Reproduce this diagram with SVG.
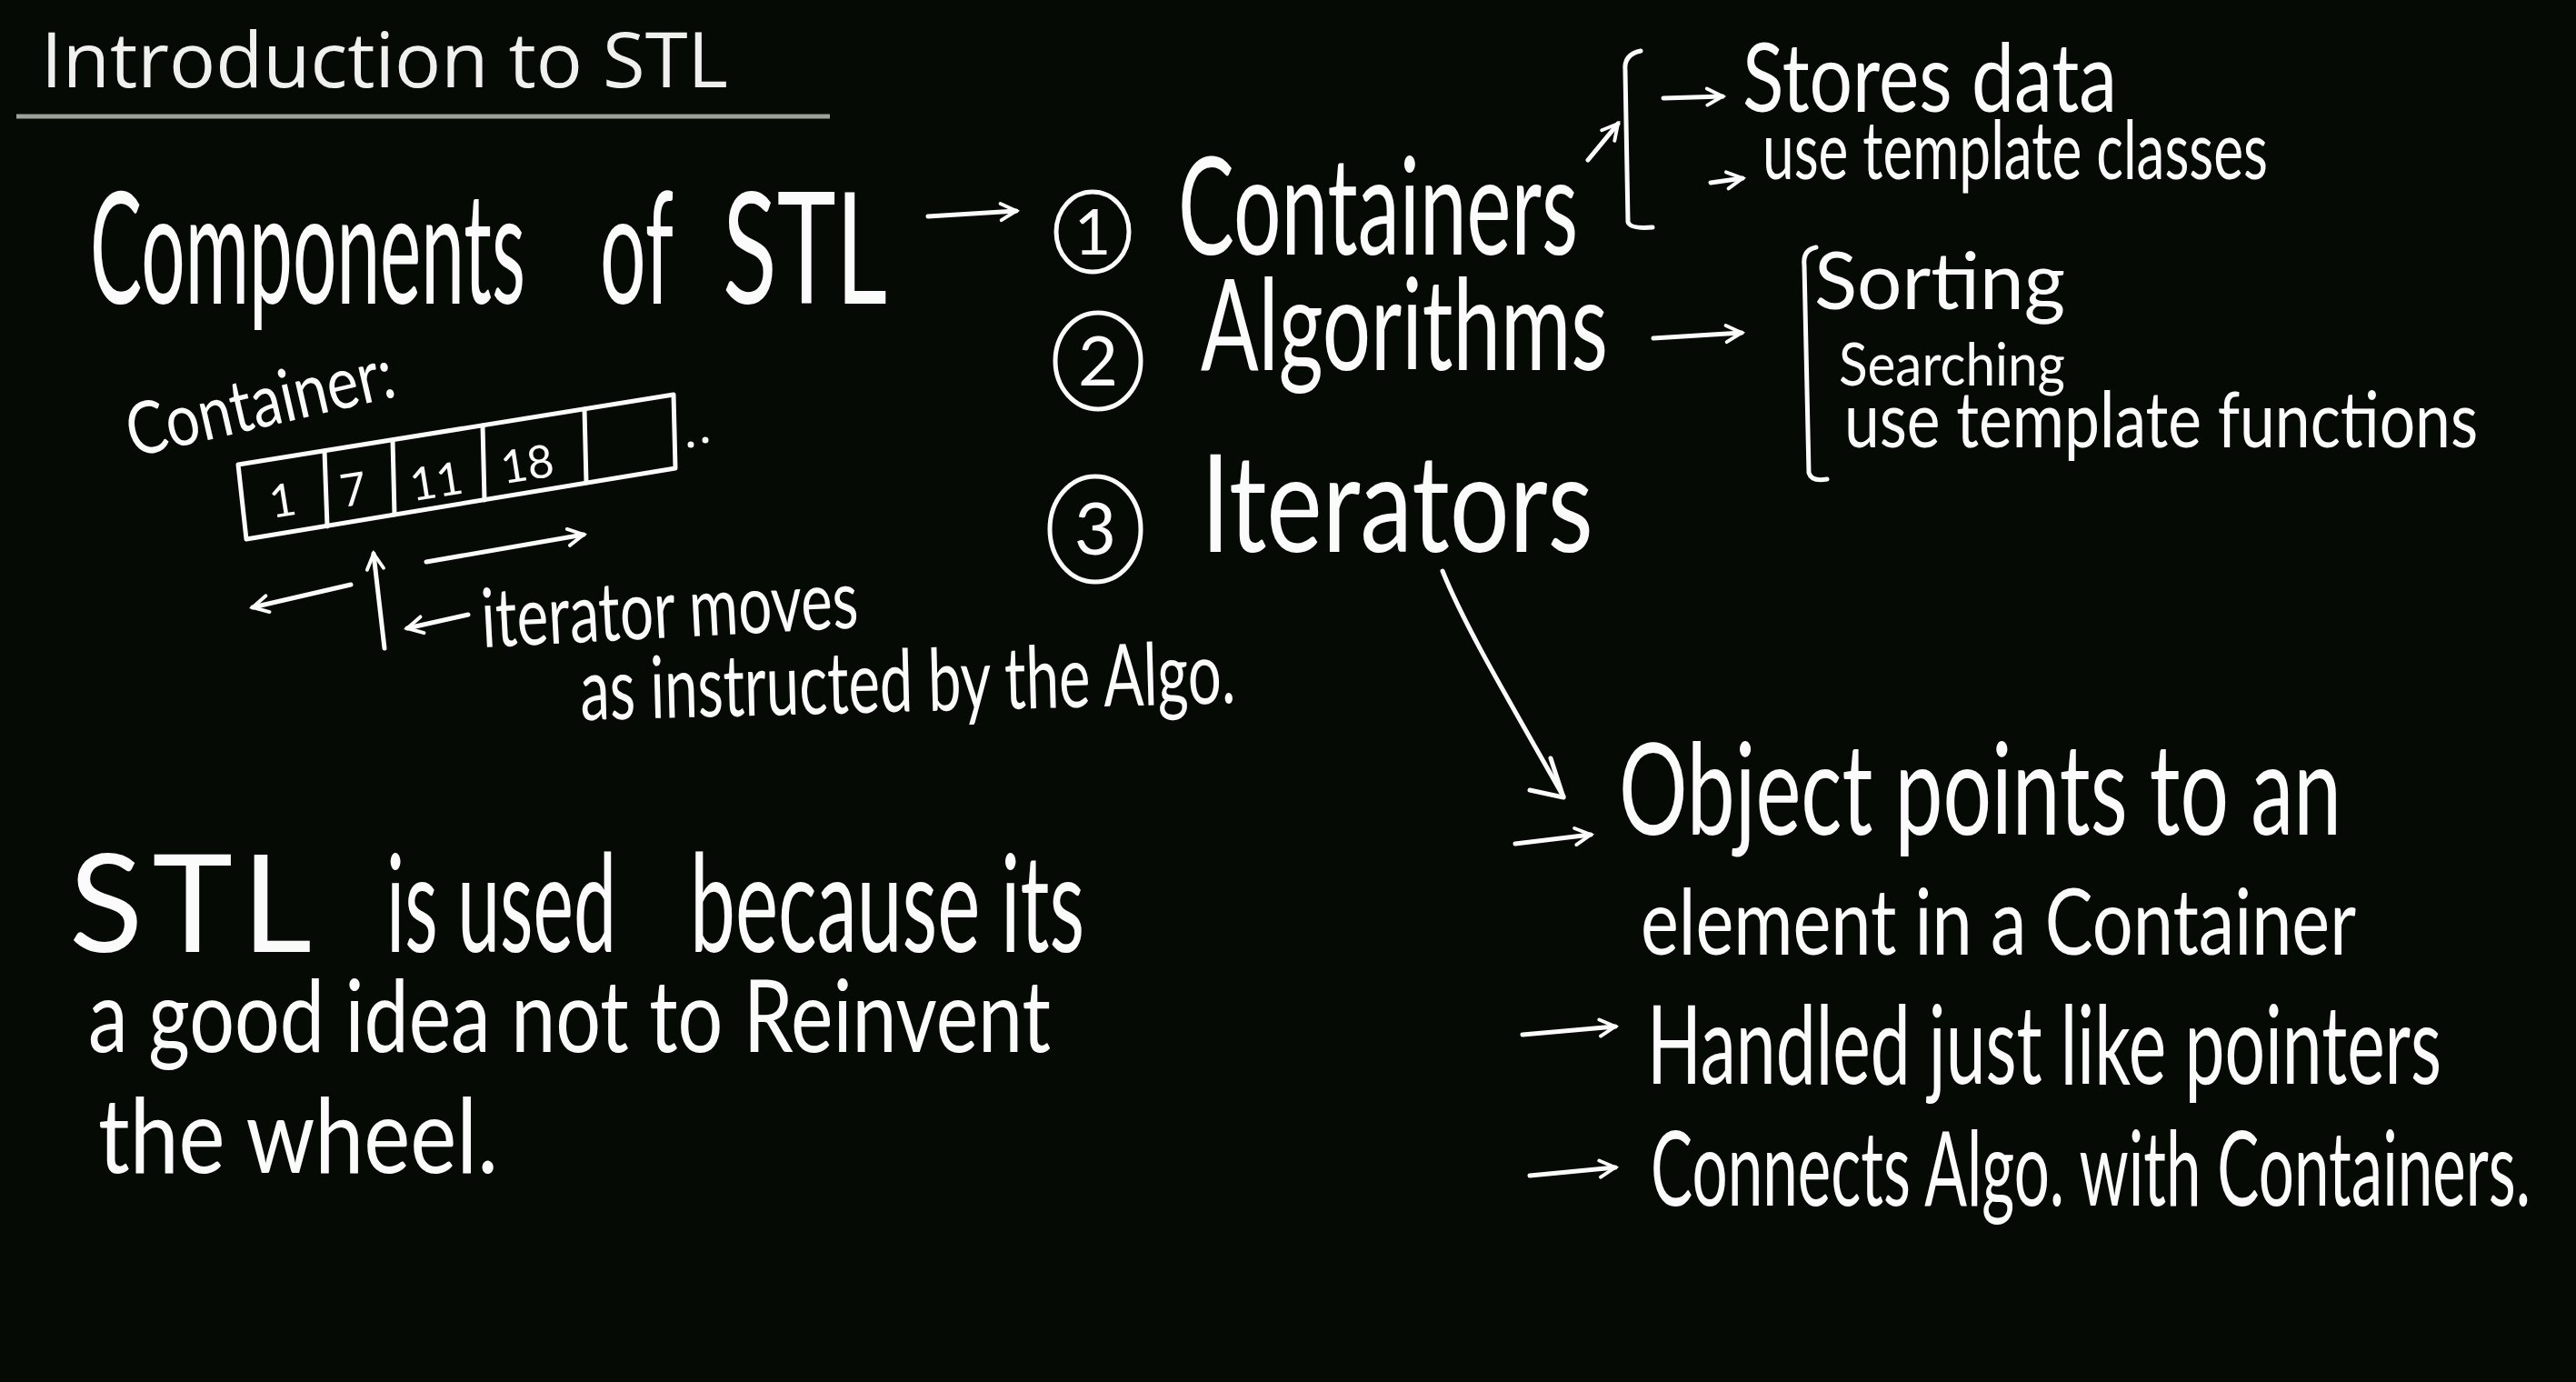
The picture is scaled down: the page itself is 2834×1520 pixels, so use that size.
<svg xmlns="http://www.w3.org/2000/svg" width="2834" height="1520" viewBox="0 0 2834 1520">
<defs>
<style>
.h{font-family:Lato,"Liberation Sans",sans-serif;font-weight:400;fill:#fbfbfb}
.ln{fill:none;stroke:#fbfbfb;stroke-width:5;stroke-linecap:round;stroke-linejoin:round}
.ar{fill:none;stroke:#fbfbfb;stroke-width:5;stroke-linecap:round;marker-end:url(#ah)}
.num{font-family:Lato,"Liberation Sans",sans-serif;font-weight:400;fill:#fbfbfb;text-anchor:middle}
</style>
<marker id="ah" viewBox="0 0 20 20" refX="17" refY="10" markerWidth="26" markerHeight="26" markerUnits="userSpaceOnUse" orient="auto">
<path d="M4,3 L17,10 L4,17" fill="none" stroke="#fbfbfb" stroke-width="3" stroke-linecap="round"/>
</marker>
</defs>
<rect width="2834" height="1520" fill="#050a05"/>

<g id="title">
<text x="45" y="96" font-family="'Open Sans','Liberation Sans',sans-serif" font-size="84" fill="#f0f0ee" textLength="756" lengthAdjust="spacingAndGlyphs">Introduction to STL</text>
<line x1="18" y1="128" x2="913" y2="128" stroke="#9ea39a" stroke-width="5"/>
</g>

<g id="components">
<text class="h" x="99" y="334" font-size="170" textLength="479" lengthAdjust="spacingAndGlyphs">Components</text>
<text class="h" x="660" y="334" font-size="170" textLength="81" lengthAdjust="spacingAndGlyphs">of</text>
<text class="h" x="795" y="334" font-size="170" textLength="181" lengthAdjust="spacingAndGlyphs">STL</text>
</g>

<g id="containers">
<ellipse class="ln" cx="1202" cy="255" rx="40" ry="44"/>
<text class="num" x="1202" y="280" font-size="70">1</text>
<text class="h" x="1296" y="280" font-size="150" textLength="440" lengthAdjust="spacingAndGlyphs">Containers</text>
</g>

<g id="containers-notes">
<path class="ln" d="M1805 56 Q1786 60 1788 78 L1791 244 Q1793 252 1818 250"/>
<text class="h" x="1917" y="123" font-size="105" textLength="412" lengthAdjust="spacingAndGlyphs">Stores data</text>
<text class="h" x="1939" y="197" font-size="90" textLength="556" lengthAdjust="spacingAndGlyphs">use template classes</text>
</g>

<g id="algorithms">
<ellipse class="ln" cx="1208" cy="397" rx="47" ry="53"/>
<text class="num" x="1208" y="424" font-size="76">2</text>
<text class="h" x="1321" y="407" font-size="140" textLength="448" lengthAdjust="spacingAndGlyphs">Algorithms</text>
</g>

<g id="algorithms-notes">
<path class="ln" d="M1998 272 Q1983 275 1985 292 L1990 520 Q1993 530 2010 527"/>
<text class="h" x="1996" y="340" font-size="88" textLength="276" lengthAdjust="spacingAndGlyphs">Sorting</text>
<text class="h" x="2023" y="424" font-size="66" textLength="249" lengthAdjust="spacingAndGlyphs">Searching</text>
<text class="h" x="2029" y="492" font-size="86" textLength="697" lengthAdjust="spacingAndGlyphs">use template functions</text>
</g>

<g id="iterators">
<ellipse class="ln" cx="1205" cy="582" rx="50" ry="58"/>
<text class="num" x="1205" y="610" font-size="80">3</text>
<text class="h" x="1321" y="607" font-size="150" textLength="432" lengthAdjust="spacingAndGlyphs">Iterators</text>
</g>

<g id="iterators-notes">
<text class="h" x="1781" y="918" font-size="140" textLength="795" lengthAdjust="spacingAndGlyphs">Object points to an</text>
<text class="h" x="1805" y="1050" font-size="100" textLength="787" lengthAdjust="spacingAndGlyphs">element in a Container</text>
<text class="h" x="1812" y="1192" font-size="120" textLength="874" lengthAdjust="spacingAndGlyphs">Handled just like pointers</text>
<text class="h" x="1816" y="1326" font-size="115" textLength="968" lengthAdjust="spacingAndGlyphs">Connects Algo. with Containers.</text>
</g>

<g id="container-sketch">
<text class="h" x="146" y="503" font-size="80" textLength="300" lengthAdjust="spacingAndGlyphs" transform="rotate(-13 146 503)">Container:</text>
<path class="ln" d="M262 511 L741 434 L743 515 L271 593 Z"/>
<line class="ln" x1="357" y1="496" x2="360" y2="579"/>
<line class="ln" x1="432" y1="484" x2="434" y2="566"/>
<line class="ln" x1="531" y1="468" x2="533" y2="550"/>
<line class="ln" x1="643" y1="450" x2="645" y2="531"/>
<text class="num" x="311" y="568" font-size="50" transform="rotate(-9 311 551)">1</text>
<text class="num" x="389" y="556" font-size="50" transform="rotate(-9 389 539)">7</text>
<text class="num" x="480" y="547" font-size="50" transform="rotate(-9 480 530)">11</text>
<text class="num" x="580" y="528" font-size="50" transform="rotate(-9 580 511)">18</text>
<circle cx="760" cy="489" r="3.5" fill="#fbfbfb"/>
<circle cx="776" cy="484" r="3.5" fill="#fbfbfb"/>
<text class="h" x="531" y="712" font-size="90" textLength="415" lengthAdjust="spacingAndGlyphs" transform="rotate(-3 531 712)">iterator moves</text>
<text class="h" x="639" y="792" font-size="95" textLength="721" lengthAdjust="spacingAndGlyphs" transform="rotate(-1.5 639 792)">as instructed by the Algo.</text>
</g>

<g id="reason">
<text class="h" x="76" y="1047" font-size="150" textLength="267" lengthAdjust="spacing">STL</text>
<text class="h" x="425" y="1047" font-size="150" textLength="253" lengthAdjust="spacingAndGlyphs">is used</text>
<text class="h" x="759" y="1047" font-size="150" textLength="434" lengthAdjust="spacingAndGlyphs">because its</text>
<text class="h" x="97" y="1157" font-size="110" textLength="1059" lengthAdjust="spacingAndGlyphs">a good idea not to Reinvent</text>
<text class="h" x="108" y="1290" font-size="115" textLength="440" lengthAdjust="spacingAndGlyphs">the wheel.</text>
</g>

<g id="connectors">
<path class="ar" d="M1021 238 L1118 232"/>
<path class="ar" d="M1747 176 L1780 136"/>
<path class="ar" d="M1830 108 L1895 106"/>
<path class="ar" d="M1882 201 L1917 196"/>
<path class="ar" d="M1819 372 L1916 366"/>
<path class="ln" d="M1587 628 C1612 690 1660 770 1720 876"/>
<path class="ln" d="M1706 834 L1720 877 L1683 869"/>
<path class="ar" d="M1667 928 L1750 918"/>
<path class="ar" d="M1675 1138 L1777 1129"/>
<path class="ar" d="M1683 1293 L1777 1284"/>
<path class="ar" d="M386 643 L278 668"/>
<path class="ar" d="M423 713 L411 609"/>
<path class="ar" d="M515 676 L448 691"/>
<path class="ar" d="M469 618 L642 588"/>
</g>
</svg>
